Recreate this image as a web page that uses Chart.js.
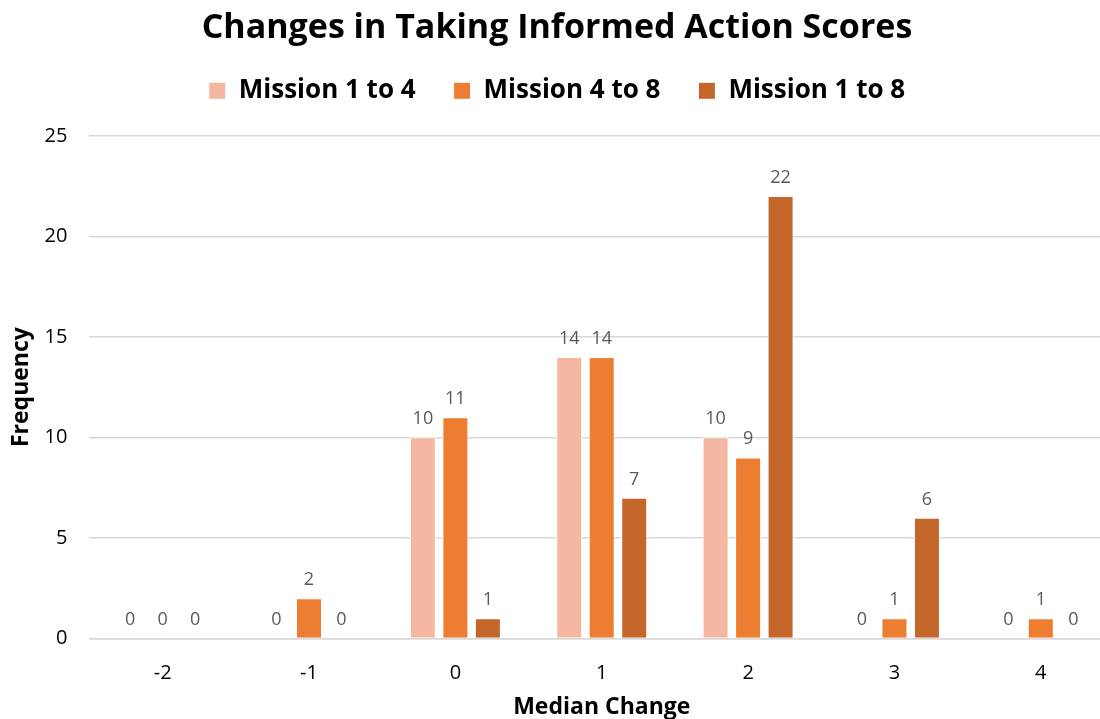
<!DOCTYPE html>
<html>
<head>
<meta charset="utf-8">
<script src="https://cdn.jsdelivr.net/npm/chart.js@4"></script>
<style>
  html, body { margin: 0; padding: 0; background: #fff; overflow: hidden; }
  #wrap { width: 1100px; height: 719px; overflow: hidden; }
  canvas { display: block; }
</style>
</head>
<body>
<div id="wrap"><canvas id="scoreChart" width="1114" height="719"></canvas></div>
<script>
// chart values
const categories = ['-2', '-1', '0', '1', '2', '3', '4'];
const mission1to4 = [0, 0, 10, 14, 10, 0, 0];
const mission4to8 = [0, 2, 11, 14, 9, 1, 1];
const mission1to8 = [0, 0, 1, 7, 22, 6, 0];
const yTicks = [0, 5, 10, 15, 20, 25];

const fontFamily = "'Open Sans', 'Noto Sans', sans-serif";

// draws the value above each bar
const barLabels = {
    id: 'barLabels',
    afterDatasetsDraw(chart) {
        const ctx = chart.ctx;
        ctx.save();
        ctx.font = '18px ' + fontFamily;
        ctx.fillStyle = '#595959';
        ctx.textAlign = 'center';
        ctx.textBaseline = 'alphabetic';
        chart.data.datasets.forEach(function(ds, i) {
            chart.getDatasetMeta(i).data.forEach(function(bar, j) {
                ctx.fillText(ds.data[j], bar.x, bar.y - 13);
            });
        });
        ctx.restore();
    }
};

// extra room between legend and plot
const legendGap = {
    id: 'legendGap',
    beforeInit(chart) {
        const fit = chart.legend.fit;
        chart.legend.fit = function() {
            fit.call(this);
            this.height += 22;
        };
    }
};

new Chart(document.getElementById('scoreChart').getContext('2d'), {
    type: 'bar',
    data: {
        labels: categories,
        datasets: [
            { label: 'Mission 1 to 4', data: mission1to4, backgroundColor: '#F4B8A2', borderColor: '#ffffff', borderWidth: 1 },
            { label: 'Mission 4 to 8', data: mission4to8, backgroundColor: '#ED7D31', borderColor: '#ffffff', borderWidth: 1 },
            { label: 'Mission 1 to 8', data: mission1to8, backgroundColor: '#C4662A', borderColor: '#ffffff', borderWidth: 1 }
        ]
    },
    options: {
        responsive: false,
        animation: false,
        categoryPercentage: 0.666,
        barPercentage: 0.8,
        layout: { padding: { left: 0, right: 0, top: 0, bottom: 0 } },
        scales: {
            y: {
                min: 0,
                max: 25,
                afterBuildTicks: function(axis) {
                    axis.ticks = yTicks.map(function(v) { return { value: v }; });
                },
                grid: { color: '#d9d9d9', lineWidth: 1.5, drawTicks: false },
                border: { display: false },
                ticks: { color: '#000', font: { size: 20, family: fontFamily }, padding: 22 },
                title: {
                    display: true,
                    text: 'Frequency',
                    color: '#000',
                    font: { size: 23, weight: 'bold', family: fontFamily },
                    padding: { top: 8, bottom: -13 }
                }
            },
            x: {
                grid: { display: false },
                border: { color: '#d9d9d9', width: 1.5 },
                ticks: { color: '#000', font: { size: 20, family: fontFamily }, padding: 15 },
                title: {
                    display: true,
                    text: 'Median Change',
                    color: '#000',
                    font: { size: 23, weight: 'bold', family: fontFamily },
                    padding: { top: -7, bottom: -2 }
                }
            }
        },
        plugins: {
            title: {
                display: true,
                text: 'Changes in Taking Informed Action Scores',
                color: '#000',
                font: { size: 34, weight: 'bold', family: fontFamily },
                padding: { top: 8, bottom: -9 }
            },
            legend: {
                position: 'top',
                labels: {
                    color: '#000',
                    font: { size: 26, weight: 'bold', family: fontFamily },
                    boxWidth: 17,
                    boxHeight: 17,
                    padding: 38
                }
            },
            tooltip: { enabled: false }
        }
    },
    plugins: [barLabels, legendGap]
});
</script>
</body>
</html>
